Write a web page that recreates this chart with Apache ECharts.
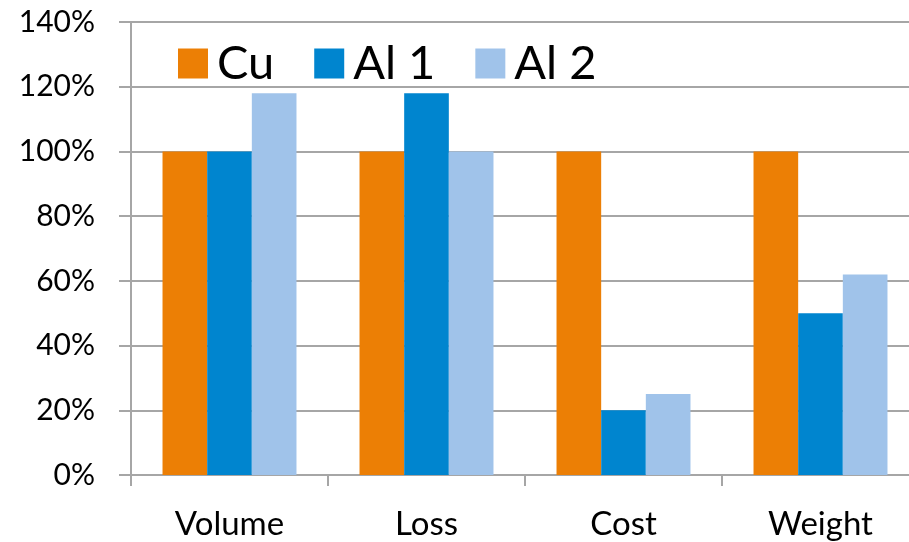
<!DOCTYPE html>
<html>
<head>
<meta charset="utf-8">
<script src="https://cdn.jsdelivr.net/npm/echarts@6/dist/echarts.min.js"></script>
<style>
  html, body { margin: 0; padding: 0; background: #fff; overflow: hidden; }
  /* a little wider than the window: the plot runs past the right edge, like the original */
  #chart { width: 919px; height: 542px; }
</style>
</head>
<body>
<div id="chart"></div>
<script>
var categories = ['Volume', 'Loss', 'Cost', 'Weight'];
var seriesNames = ['Cu', 'Al 1', 'Al 2'];
var cuValues = [100, 100, 100, 100];
var al1Values = [100, 118, 20, 50];
var al2Values = [118, 100, 25, 62];
var colors = ['#EC7F05', '#0085CF', '#A0C3EA'];

var font = 'Lato, "Open Sans", sans-serif';
var axisGray = '#A6A6A6';

var myChart = echarts.init(document.getElementById('chart'));

var option = {
    animation: false,
    color: colors,
    textStyle: { fontFamily: font },
    grid: { left: 131, right: 0, top: 22, bottom: 67, containLabel: false },
    legend: {
        left: 173,
        top: 35,
        itemWidth: 30,
        itemHeight: 30,
        itemGap: 40,
        icon: 'rect',
        textStyle: { fontSize: 47, color: '#000', fontFamily: font, padding: [0, 0, 0, 4] },
        data: seriesNames
    },
    xAxis: {
        type: 'category',
        data: categories,
        axisLine: { lineStyle: { color: axisGray, width: 2 } },
        axisTick: { show: true, length: 11, lineStyle: { color: axisGray, width: 2 } },
        axisLabel: { fontSize: 33, color: '#000', margin: 33, fontFamily: font }
    },
    yAxis: {
        type: 'value',
        min: 0,
        max: 140,
        interval: 20,
        axisLine: { show: true, lineStyle: { color: axisGray, width: 2 } },
        axisTick: { show: true, length: 12, lineStyle: { color: axisGray, width: 2 } },
        splitLine: { show: true, lineStyle: { color: axisGray, width: 2 } },
        axisLabel: {
            fontSize: 30, color: '#000', margin: 36, fontFamily: font,
            formatter: function (v) { return v + '%'; }
        }
    },
    series: [
        { name: seriesNames[0], type: 'bar', data: cuValues, barGap: '0%', barCategoryGap: '32%' },
        { name: seriesNames[1], type: 'bar', data: al1Values, barGap: '0%', barCategoryGap: '32%' },
        { name: seriesNames[2], type: 'bar', data: al2Values, barGap: '0%', barCategoryGap: '32%' }
    ]
};

myChart.setOption(option);
</script>
</body>
</html>
